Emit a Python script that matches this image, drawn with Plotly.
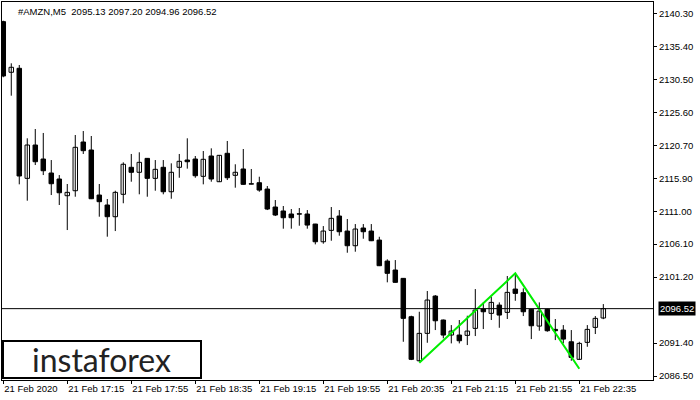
import plotly.graph_objects as go

# ---------------- data ----------------
opens = [2139.16, 2131.64, 2132.23, 2115.88, 2120.83, 2118.75, 2116.67, 2115.78, 2113.30, 2114.04,
         2121.28, 2120.09, 2113.40, 2111.92, 2110.18, 2113.51, 2117.52, 2116.78, 2118.85, 2115.88,
         2117.52, 2113.89, 2117.52, 2118.60, 2118.75, 2116.18, 2119.20, 2115.38, 2119.60, 2116.33,
         2117.27, 2115.08, 2115.23, 2114.29, 2111.62, 2111.03, 2110.58, 2110.60, 2110.58, 2109.09,
         2106.46, 2108.15, 2110.28, 2108.05, 2105.87, 2108.50, 2108.05, 2106.71, 2103.59, 2102.26,
         2101.02, 2095.32, 2088.78, 2092.85, 2098.39, 2094.83, 2092.60, 2092.60, 2092.55, 2093.59,
         2096.46, 2095.82, 2097.05, 2095.97, 2099.43, 2098.89, 2096.42, 2093.93, 2096.42, 2093.44,
         2093.34, 2091.60, 2088.99, 2091.51, 2093.74, 2095.13]
highs = [2139.30, 2132.97, 2132.72, 2121.83, 2123.21, 2122.62, 2118.60, 2116.37, 2115.04, 2122.32,
         2122.91, 2122.17, 2115.04, 2112.81, 2114.04, 2118.26, 2119.50, 2119.75, 2118.90, 2118.60,
         2118.60, 2118.11, 2119.50, 2121.83, 2119.20, 2119.94, 2120.34, 2119.35, 2121.43, 2117.97,
         2120.24, 2117.27, 2116.12, 2114.74, 2112.66, 2111.77, 2111.32, 2111.47, 2111.17, 2109.12,
         2108.79, 2111.62, 2111.17, 2109.84, 2109.09, 2109.09, 2109.09, 2107.20, 2103.85, 2103.74,
         2101.05, 2095.47, 2096.06, 2099.14, 2098.54, 2094.90, 2094.08, 2094.83, 2095.47, 2099.43,
         2097.45, 2098.29, 2097.45, 2101.37, 2101.66, 2099.54, 2096.45, 2097.45, 2096.50, 2094.98,
         2094.08, 2093.34, 2091.60, 2094.08, 2095.42, 2097.20]
lows = [2130.90, 2128.16, 2114.99, 2112.56, 2117.86, 2116.37, 2113.40, 2111.92, 2108.20, 2113.15,
        2119.50, 2112.80, 2110.18, 2107.21, 2108.05, 2112.18, 2115.38, 2113.51, 2113.15, 2114.04,
        2113.51, 2112.85, 2115.97, 2117.32, 2115.97, 2114.99, 2115.38, 2115.33, 2115.63, 2114.49,
        2114.95, 2115.00, 2113.89, 2111.17, 2110.28, 2108.40, 2108.40, 2108.84, 2108.40, 2106.07,
        2106.17, 2106.61, 2107.36, 2104.83, 2104.98, 2106.91, 2106.56, 2102.85, 2100.43, 2100.40,
        2091.60, 2088.88, 2088.63, 2091.45, 2093.34, 2092.11, 2091.36, 2091.36, 2091.11, 2092.45,
        2093.49, 2094.83, 2093.68, 2094.98, 2097.69, 2095.42, 2092.00, 2093.24, 2093.09, 2091.85,
        2091.36, 2088.78, 2088.95, 2090.86, 2092.75, 2094.96]
closes = [2131.09, 2132.38, 2116.23, 2120.83, 2118.35, 2117.01, 2115.08, 2113.74, 2113.80, 2120.49,
          2119.99, 2112.85, 2112.41, 2110.18, 2113.80, 2117.97, 2116.78, 2118.26, 2115.88, 2117.22,
          2113.89, 2116.78, 2118.41, 2118.35, 2116.27, 2118.71, 2115.78, 2119.30, 2115.97, 2116.78,
          2114.99, 2115.02, 2114.14, 2111.32, 2110.43, 2110.03, 2110.03, 2110.56, 2108.94, 2106.46,
          2108.05, 2109.94, 2107.95, 2105.87, 2108.35, 2107.95, 2106.61, 2102.90, 2101.77, 2100.43,
          2095.08, 2088.99, 2092.85, 2097.80, 2094.72, 2092.60, 2093.19, 2091.75, 2093.19, 2096.31,
          2096.06, 2097.45, 2095.57, 2098.94, 2098.79, 2096.06, 2093.98, 2096.16, 2093.24, 2093.24,
          2092.00, 2089.28, 2091.36, 2093.44, 2095.08, 2096.52]

tick_idx = [0, 8, 16, 24, 32, 40, 48, 56, 64, 72]
tick_labels = ["21 Feb 2020", "21 Feb 17:15", "21 Feb 17:55", "21 Feb 18:35", "21 Feb 19:15",
               "21 Feb 19:55", "21 Feb 20:35", "21 Feb 21:15", "21 Feb 21:55", "21 Feb 22:35"]
price_ticks = [2140.30, 2135.40, 2130.50, 2125.60, 2120.70, 2115.90, 2111.00, 2106.10,
               2101.20, 2091.40, 2086.50]
last_price = 2096.52
header = "#AMZN,M5  2095.13 2097.20 2094.96 2096.52"

pattern_idx = [52, 64, 72]
pattern_price = [2088.48, 2101.77, 2087.60]

# ---------------- layout constants ----------------
W, H = 700, 400
L, R, T, B = 2, 47, 2, 20
PW, PH = W - L - R, H - T - B
FONT = "Tahoma, Liberation Sans, Arial, sans-serif"

def px(x):
    return (x - L) / PW

def py(y):
    return (H - B - y) / PH

n = len(opens)
xs = list(range(n))

# wicks
wx, wy = [], []
for i in xs:
    wx += [i, i, None]
    wy += [lows[i], highs[i], None]

base = [min(o, c) for o, c in zip(opens, closes)]
height = [max(abs(c - o), 0.06) for o, c in zip(opens, closes)]
fill = ["white" if c > o else "black" for o, c in zip(opens, closes)]

fig = go.Figure()
fig.add_trace(go.Scatter(x=wx, y=wy, mode="lines", line=dict(color="black", width=1),
                         hoverinfo="skip", showlegend=False))
fig.add_trace(go.Bar(x=xs, y=height, base=base, width=0.56,
                     marker=dict(color=fill, line=dict(color="black", width=1)),
                     hoverinfo="skip", showlegend=False))
fig.add_trace(go.Scatter(x=pattern_idx, y=pattern_price, mode="lines",
                         line=dict(color="#00ee00", width=2), hoverinfo="skip", showlegend=False))

# current price line
fig.add_shape(type="line", xref="paper", x0=0, x1=1, yref="y", y0=last_price, y1=last_price,
              line=dict(color="black", width=1))

# price label box
fig.add_annotation(xref="paper", x=1, yref="y", y=last_price, xanchor="left", yanchor="middle",
                   xshift=5, text=f"{last_price:.2f}", showarrow=False, bgcolor="black",
                   font=dict(color="white", size=9.5, family=FONT), borderpad=1)

# header
fig.add_annotation(xref="paper", x=px(16), yref="paper", y=py(11), xanchor="left", yanchor="middle",
                   text=header, showarrow=False, font=dict(color="black", size=9.5, family=FONT))

# logo
fig.add_shape(type="rect", xref="paper", yref="paper", x0=px(3), x1=px(201), y0=py(378), y1=py(341),
              line=dict(color="black", width=2), fillcolor="white", layer="above")
fig.add_annotation(xref="paper", x=px(101), yref="paper", y=py(359), xanchor="center", yanchor="middle",
                   text="instaforex", showarrow=False,
                   font=dict(color="#222222", size=32, family="Lato, DejaVu Sans, sans-serif"))

fig.update_layout(
    width=W, height=H, margin=dict(l=L, r=R, t=T, b=B, autoexpand=False),
    paper_bgcolor="white", plot_bgcolor="white", barmode="overlay",
    showlegend=False, hovermode=False,
    font=dict(family=FONT, size=9, color="black"),
)
fig.update_xaxes(range=[-0.16, 81.21], tickvals=tick_idx, ticktext=tick_labels, tickangle=0,
                 automargin=False,
                 ticks="outside", ticklen=3, tickcolor="black", showgrid=False, zeroline=False,
                 showline=True, linecolor="black", linewidth=1, mirror=True,
                 ticklabelposition="outside right", tickfont=dict(size=9.5, family=FONT, color="black"))
fig.update_yaxes(range=[2085.92, 2142.08], side="right", tickvals=price_ticks,
                 ticktext=[f"{v:.2f}" for v in price_ticks], automargin=False,
                 ticks="outside", ticklen=3, tickcolor="black", showgrid=False, zeroline=False,
                 showline=True, linecolor="black", linewidth=1, mirror=True,
                 tickfont=dict(size=9.5, family=FONT, color="black"))

fig.write_html("out.html", config={"displayModeBar": False},
               post_script="document.body.style.margin='0';")
